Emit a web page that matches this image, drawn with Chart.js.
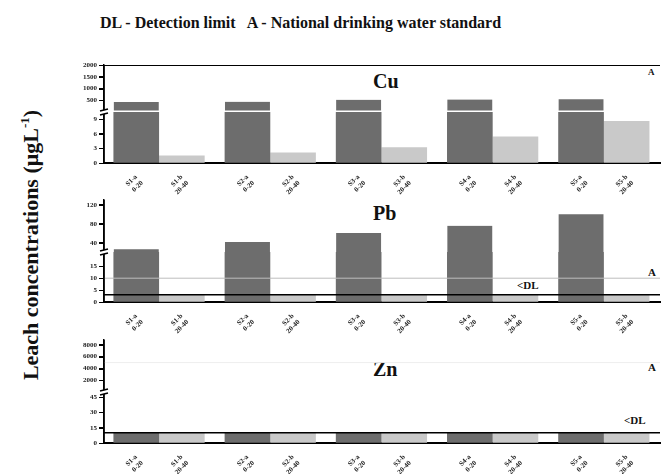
<!DOCTYPE html>
<html>
<head>
<meta charset="utf-8">
<script src="https://cdn.jsdelivr.net/npm/chart.js@4.4.1/dist/chart.umd.min.js"></script>
<style>
  body { margin: 0; background: #fff; width: 662px; height: 474px; position: relative; overflow: hidden; font-family: 'Liberation Serif', serif; }
  canvas { position: absolute; left: 0; }
  .t { position: absolute; font-weight: bold; white-space: nowrap; color: #111; line-height: 1; }
</style>
</head>
<body>
<div class="t" style="left:100px;top:15px;font-size:16px">DL - Detection limit&nbsp;&nbsp; A - National drinking water standard</div>
<div class="t" id="ytitle" style="left:30px;top:245px;font-size:22px;transform:translate(-50%,-50%) rotate(-90deg)">Leach concentrations (μgL<sup style="font-size:13px">-1</sup>)</div>

<div class="t" style="left:373px;top:71px;font-size:20px">Cu</div>
<div class="t" style="left:373px;top:203px;font-size:20px">Pb</div>
<div class="t" style="left:373px;top:359px;font-size:20px">Zn</div>

<div class="t" style="left:648px;top:68px;font-size:9px">A</div>
<div class="t" style="left:648px;top:267px;font-size:11px">A</div>
<div class="t" style="left:517px;top:280px;font-size:11px">&lt;DL</div>
<div class="t" style="left:648px;top:362px;font-size:11px">A</div>
<div class="t" style="left:624px;top:415px;font-size:11px">&lt;DL</div>

<canvas id="cu" width="662" height="142" style="top:55px"></canvas>
<canvas id="pb" width="662" height="146" style="top:190px"></canvas>
<canvas id="zn" width="662" height="144" style="top:330px"></canvas>

<script>
// sample labels (two lines each), one per bar
const darkLabels = [['S1-a', '0-20'], ['S2-a', '0-20'], ['S3-a', '0-20'], ['S4-a', '0-20'], ['S5-a', '0-20']];
const lightLabels = [['S1-b', '20-40'], ['S2-b', '20-40'], ['S3-b', '20-40'], ['S4-b', '20-40'], ['S5-b', '20-40']];

// Cu (ug/L)
const cuDark = [438, 445, 530, 535, 545];
const cuLight = [1.5, 2.1, 3.2, 5.4, 8.6];
const cuStandard = 2000;
const cuLowTicks = [0, 3, 6, 9];
const cuHighTicks = [500, 1000, 1500, 2000];

// Pb (ug/L); light bars below detection limit
const pbDark = [27, 42, 61, 76, 100];
const pbLight = [3, 3, 3, 3, 3];
const pbDL = 3;
const pbStandard = 10;
const pbLowTicks = [0, 5, 10, 15];
const pbHighTicks = [40, 80, 120];

// Zn (ug/L); everything below detection limit
const znDark = [10, 10, 10, 10, 10];
const znLight = [10, 10, 10, 10, 10];
const znDL = 10;
const znStandard = 5000;
const znLowTicks = [0, 15, 30, 45];
const znHighTicks = [2000, 4000, 6000, 8000];

const DARK = '#6d6d6d';
const LIGHT = '#c9c9c9';
const DARK_OFF = 0.29;
const LIGHT_OFF = 0.70;
const tickFont = { family: 'Liberation Serif', size: 7, weight: 'bold' };

// y axis lines, tick marks and the break mark, drawn from the scales
const brokenAxis = {
  id: 'brokenAxis',
  afterDraw(chart) {
    const { ctx } = chart;
    const lo = chart.scales.lo;
    const hi = chart.scales.hi;
    ctx.save();
    ctx.strokeStyle = '#000';
    for (const s of [lo, hi]) {
      const x = s.right;
      ctx.lineWidth = 1.5;
      ctx.beginPath();
      ctx.moveTo(x, s.top);
      ctx.lineTo(x, s.bottom);
      ctx.stroke();
      ctx.lineWidth = 1;
      for (const t of s.ticks) {
        const y = Math.round(s.getPixelForValue(t.value)) + 0.5;
        ctx.beginPath();
        ctx.moveTo(x - 5, y);
        ctx.lineTo(x, y);
        ctx.stroke();
      }
    }
    const y = lo.top;
    ctx.fillStyle = '#fff';
    ctx.fillRect(lo.right - 4, y - 2, 8, 4);
    ctx.lineWidth = 1.5;
    ctx.beginPath();
    ctx.moveTo(lo.right - 4, y - 1);
    ctx.lineTo(lo.right + 4, y - 3);
    ctx.moveTo(lo.right - 4, y + 3);
    ctx.lineTo(lo.right + 4, y + 1);
    ctx.stroke();
    ctx.restore();
  },
};

function barSets(values, offset, color, lowMax) {
  const low = values.map((v, i) => ({ x: i + offset, y: Math.min(v, lowMax) }));
  const high = values.map((v, i) => ({ x: i + offset, y: v > lowMax ? v : null }));
  return [
    { type: 'bar', data: low, yAxisID: 'lo', backgroundColor: color, order: 2 },
    {
      type: 'bar', data: high, yAxisID: 'hi', backgroundColor: color, order: 2,
      borderColor: '#fff', borderWidth: { top: 0, left: 0, right: 0, bottom: 2 }, borderSkipped: false,
    },
  ];
}

function hLine(value, axis, color, width) {
  return {
    type: 'line', data: [{ x: 0, y: value }, { x: 5, y: value }], yAxisID: axis,
    borderColor: color, borderWidth: width, pointRadius: 0, order: 0,
  };
}

function yScale(min, max, ticks, weight) {
  return {
    type: 'linear', position: 'left', stack: 'y', stackWeight: weight, min, max,
    afterBuildTicks: (s) => { s.ticks = ticks.map((v) => ({ value: v })); },
    afterFit: (s) => { s.width = 104; },
    grid: { drawOnChartArea: false, drawTicks: true, tickLength: 5, color: '#000' },
    border: { color: '#000', width: 1.5 },
    ticks: { autoSkip: false, font: tickFont, color: '#222', padding: 2, callback: (v) => String(v) },
  };
}

function panel(id, cfg) {
  const { dark, light, lowMax, highMin, highMax, lowTicks, highTicks, lowWeight, highWeight, lines, xHeight } = cfg;
  const positions = [];
  const labels = [];
  for (let i = 0; i < dark.length; i++) {
    positions.push(i + DARK_OFF, i + LIGHT_OFF);
    labels.push(darkLabels[i], lightLabels[i]);
  }
  new Chart(document.getElementById(id), {
    type: 'bar',
    data: {
      datasets: [
        ...barSets(dark, DARK_OFF, DARK, lowMax),
        ...barSets(light, LIGHT_OFF, LIGHT, lowMax),
        ...lines,
      ],
    },
    options: {
      responsive: false,
      animation: false,
      layout: { padding: { top: 10, right: 2, left: 0, bottom: 0 } },
      plugins: { legend: { display: false }, tooltip: { enabled: false } },
      datasets: { bar: { grouped: false, barThickness: 45 } },
      scales: {
        x: {
          type: 'linear', min: 0, max: 5, offset: false,
          afterBuildTicks: (s) => { s.ticks = positions.map((v) => ({ value: v })); },
          afterFit: (s) => { s.height = xHeight; s.paddingLeft = 0; s.paddingRight = 0; },
          grid: { display: false },
          border: { color: '#000', width: 2 },
          ticks: {
            autoSkip: false, minRotation: 45, maxRotation: 45, font: tickFont, color: '#222', padding: 2,
            callback: (v, i) => labels[i],
          },
        },
        lo: yScale(0, lowMax, lowTicks, lowWeight),
        hi: yScale(highMin, highMax, highTicks, highWeight),
      },
    },
    plugins: [brokenAxis],
  });
}

panel('cu', {
  dark: cuDark, light: cuLight,
  lowMax: 10.5, highMin: 10.5, highMax: 2000,
  lowTicks: cuLowTicks, highTicks: cuHighTicks,
  lowWeight: 51, highWeight: 47, xHeight: 34,
  lines: [hLine(cuStandard, 'hi', '#000', 2)],
});

panel('pb', {
  dark: pbDark, light: pbLight,
  lowMax: 21, highMin: 21, highMax: 130,
  lowTicks: pbLowTicks, highTicks: pbHighTicks,
  lowWeight: 50, highWeight: 52, xHeight: 34,
  lines: [hLine(pbStandard, 'lo', '#bdbdbd', 1), hLine(pbDL, 'lo', '#000', 1.5)],
});

panel('zn', {
  dark: znDark, light: znLight,
  lowMax: 50, highMin: 50, highMax: 8800,
  lowTicks: znLowTicks, highTicks: znHighTicks,
  lowWeight: 51, highWeight: 52, xHeight: 31,
  lines: [hLine(znStandard, 'hi', '#eeeeee', 1), hLine(znDL, 'lo', '#000', 1.5)],
});
</script>
</body>
</html>
